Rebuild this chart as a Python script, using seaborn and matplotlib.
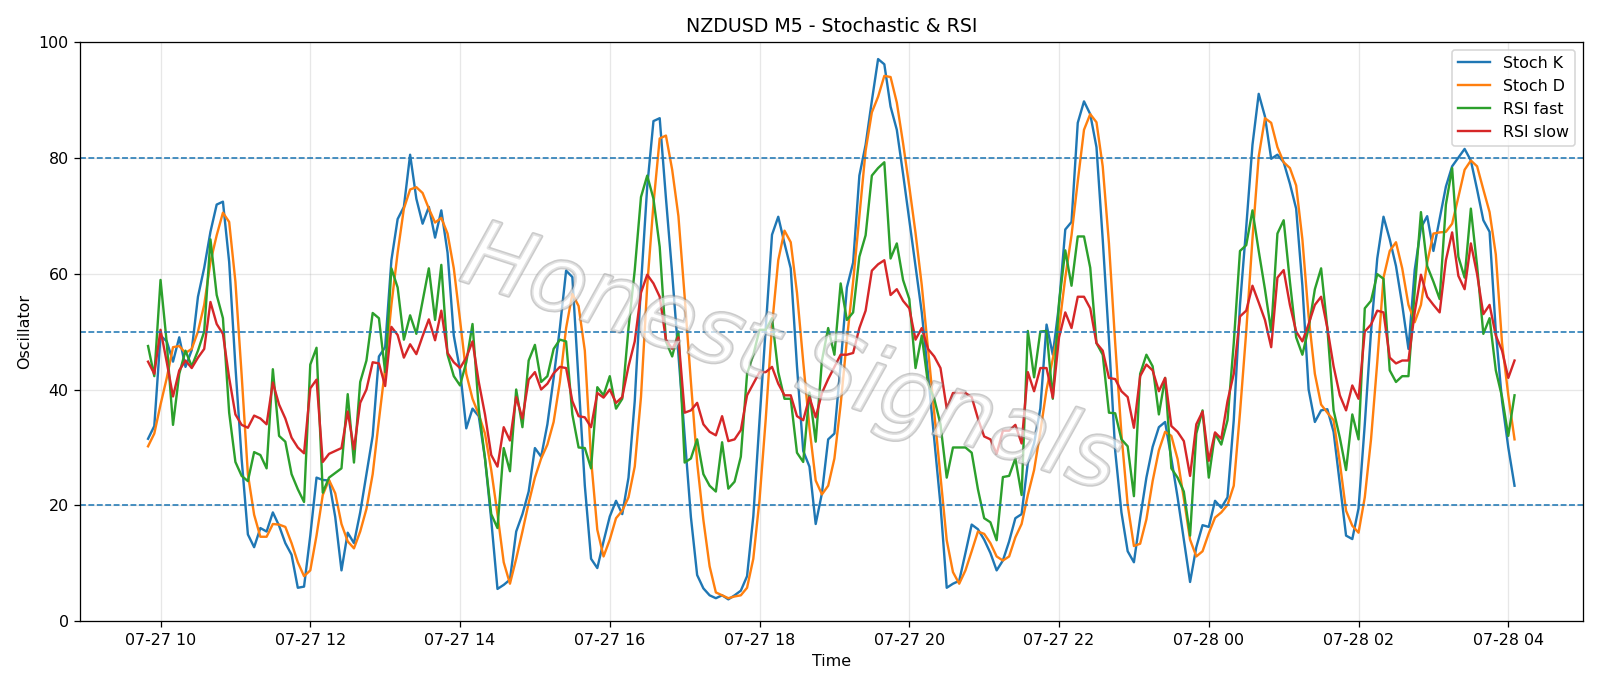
import pandas as pd
import matplotlib
matplotlib.use("Agg")
import matplotlib.pyplot as plt
import matplotlib.dates as mdates
import matplotlib.patheffects as pe
import seaborn as sns

# 5-minute bars, 07-27 09:50 -> 07-28 04:05
start_time = "2023-07-27 09:50"

stoch_k = [
    31.5, 33.7, 49.3, 48.3, 44.8, 49.0, 43.9, 46.8, 56.0, 61.0,
    67.2, 71.9, 72.4, 62.0, 44.0, 28.0, 15.0, 12.8, 16.1, 15.5,
    18.8, 16.5, 13.5, 11.5, 5.8, 6.0, 14.8, 24.8, 24.4, 24.3,
    18.0, 8.8, 15.3, 13.5, 18.8, 25.4, 32.0, 45.7, 47.3, 62.3,
    69.4, 71.5, 80.5, 72.9, 68.6, 71.5, 66.2, 70.9, 63.6, 49.3,
    43.3, 33.3, 36.7, 35.4, 28.1, 17.5, 5.6, 6.3, 7.2, 15.5,
    18.5, 22.4, 29.9, 28.4, 34.0, 42.0, 50.6, 60.5, 59.4, 41.3,
    23.4, 10.8, 9.2, 13.8, 18.1, 20.8, 18.5, 24.8, 38.0, 58.0,
    75.0, 86.3, 86.8, 73.0, 60.0, 46.0, 32.0, 18.0, 8.0, 5.7,
    4.5, 4.0, 4.5, 3.8, 4.5, 5.3, 7.8, 18.1, 34.7, 50.6,
    66.7, 69.8, 65.2, 60.9, 44.0, 29.4, 26.7, 16.8, 22.1, 31.4,
    32.4, 44.3, 57.6, 61.9, 76.9, 82.2, 89.8, 97.0, 96.1, 88.8,
    84.8, 77.2, 69.2, 61.3, 53.3, 42.7, 31.4, 20.1, 5.8, 6.5,
    7.0, 11.8, 16.7, 15.9, 14.1, 11.8, 8.8, 10.5, 13.8, 17.8,
    18.5, 27.4, 30.7, 36.7, 51.2, 46.0, 54.6, 67.6, 68.9, 86.0,
    89.7, 87.5, 81.8, 65.9, 48.6, 29.4, 18.8, 12.1, 10.2, 17.8,
    24.8, 30.1, 33.5, 34.4, 28.1, 21.4, 14.1, 6.8, 12.8, 16.6,
    16.3, 20.8, 19.6, 21.4, 34.7, 54.6, 68.0, 82.2, 91.0, 87.1,
    79.8, 80.5, 79.2, 75.5, 71.2, 57.9, 40.0, 34.4, 36.4, 36.6,
    32.7, 23.8, 14.8, 14.2, 19.5, 34.0, 50.0, 62.6, 69.8, 65.9,
    61.3, 54.6, 47.0, 60.6, 67.9, 69.9, 63.9, 69.5, 75.0, 78.5,
    80.0, 81.5, 79.5, 74.5, 69.2, 67.2, 50.0, 38.0, 30.0, 23.4,
]

stoch_d = [
    30.2, 32.4, 37.4, 42.0, 47.3, 47.5, 46.3, 47.0, 50.0, 54.6,
    62.0, 66.6, 70.5, 68.9, 58.6, 42.5, 25.4, 18.4, 14.6, 14.6,
    16.8, 16.7, 16.3, 13.5, 10.2, 7.8, 8.8, 14.8, 21.8, 24.4,
    22.1, 16.8, 13.8, 12.6, 15.5, 19.4, 25.4, 34.7, 43.7, 54.6,
    63.6, 71.2, 74.5, 74.9, 73.9, 71.2, 68.8, 69.6, 66.9, 60.9,
    52.0, 42.7, 38.4, 35.7, 32.4, 26.1, 18.5, 10.2, 6.5, 10.8,
    15.5, 20.4, 24.8, 28.1, 30.5, 34.4, 41.3, 50.6, 56.5, 54.4,
    46.7, 28.0, 15.8, 11.2, 14.1, 17.8, 19.1, 21.4, 26.7, 38.7,
    57.9, 72.0, 83.3, 83.8, 77.9, 69.9, 56.0, 41.3, 27.4, 17.5,
    9.5, 5.0, 4.5, 4.0, 4.3, 4.5, 5.8, 10.8, 21.0, 35.0,
    51.0, 62.3, 67.4, 65.4, 56.7, 44.8, 33.4, 24.3, 21.9, 23.4,
    28.1, 37.4, 48.6, 58.6, 69.9, 81.2, 87.8, 90.5, 94.1, 93.9,
    89.5, 82.5, 75.0, 67.0, 58.0, 47.0, 36.0, 25.0, 14.0, 8.5,
    6.5, 8.8, 12.1, 15.5, 15.1, 13.5, 11.2, 10.5, 11.2, 14.5,
    16.8, 21.8, 26.1, 32.7, 40.0, 45.3, 50.6, 59.3, 66.6, 75.9,
    84.8, 87.5, 86.1, 78.5, 65.2, 48.0, 32.3, 20.1, 13.0, 13.4,
    17.6, 24.2, 29.5, 32.7, 32.0, 28.0, 21.2, 14.1, 11.2, 12.1,
    15.2, 17.9, 18.8, 20.1, 23.4, 36.0, 50.0, 66.0, 80.2, 86.8,
    86.0, 81.8, 79.2, 78.2, 75.2, 65.9, 52.6, 42.7, 37.4, 36.0,
    34.7, 27.4, 19.1, 16.5, 15.3, 21.4, 31.4, 44.7, 59.3, 63.9,
    65.4, 60.9, 54.6, 51.6, 54.6, 61.9, 66.9, 67.1, 67.2, 68.6,
    73.2, 77.9, 79.5, 78.5, 74.5, 70.6, 63.3, 48.0, 39.0, 31.4,
]

rsi_fast = [
    47.5, 42.3, 58.9, 48.0, 33.9, 42.7, 46.7, 44.0, 46.7, 50.0,
    65.9, 56.3, 52.3, 36.0, 27.5, 25.1, 24.2, 29.2, 28.7, 26.4,
    43.5, 32.0, 31.0, 25.4, 22.8, 20.6, 44.3, 47.2, 22.2, 24.8,
    25.6, 26.4, 39.2, 27.4, 41.3, 45.0, 53.2, 52.3, 43.0, 60.9,
    57.6, 48.6, 52.8, 49.6, 55.3, 60.9, 52.0, 61.5, 46.0, 42.3,
    40.7, 44.7, 51.3, 36.7, 28.1, 18.5, 16.1, 29.9, 25.9, 40.0,
    33.5, 45.0, 47.7, 41.3, 42.3, 47.0, 48.6, 48.3, 35.7, 30.0,
    29.9, 26.4, 40.4, 39.0, 42.3, 36.7, 38.4, 50.6, 60.6, 73.2,
    76.9, 72.9, 64.6, 48.3, 45.7, 50.0, 27.4, 28.1, 31.4, 25.4,
    23.4, 22.4, 30.9, 22.9, 24.1, 28.4, 42.7, 46.0, 50.3, 50.3,
    52.3, 43.0, 38.4, 38.4, 29.1, 27.5, 39.5, 31.0, 45.0, 50.6,
    46.0, 58.3, 52.0, 53.3, 62.9, 66.6, 76.9, 78.2, 79.2, 62.6,
    65.2, 58.9, 55.6, 43.7, 49.3, 41.0, 38.4, 34.0, 24.8, 30.0,
    30.0, 30.0, 29.1, 22.8, 17.8, 17.1, 14.0, 24.9, 25.1, 28.1,
    21.8, 50.1, 42.1, 50.0, 50.1, 38.4, 55.0, 64.0, 57.9, 66.4,
    66.4, 61.0, 48.0, 46.0, 36.0, 35.9, 31.4, 30.2, 21.6, 42.7,
    46.0, 44.0, 35.7, 42.0, 26.4, 24.8, 22.4, 14.8, 32.4, 36.4,
    24.8, 32.4, 30.5, 34.7, 48.0, 63.9, 64.9, 70.9, 63.9, 57.3,
    50.0, 66.9, 69.2, 58.6, 49.0, 46.0, 50.6, 57.3, 60.9, 50.6,
    36.4, 31.7, 26.1, 35.7, 31.4, 54.0, 55.3, 59.9, 59.1, 43.3,
    41.3, 42.3, 42.3, 57.0, 70.6, 61.3, 58.6, 55.6, 71.9, 78.2,
    62.9, 59.3, 71.2, 61.3, 49.6, 52.3, 43.3, 38.7, 32.0, 39.0,
]

rsi_slow = [
    44.8, 42.7, 50.3, 44.7, 38.8, 43.3, 45.0, 43.7, 45.5, 47.0,
    55.1, 51.3, 49.6, 42.0, 35.7, 33.9, 33.4, 35.5, 35.0, 34.0,
    41.2, 37.4, 35.0, 31.7, 30.0, 29.0, 40.2, 41.7, 27.5, 28.9,
    29.4, 29.9, 36.2, 29.7, 37.7, 40.0, 44.7, 44.5, 40.6, 50.8,
    49.4, 45.5, 47.8, 46.1, 49.2, 52.1, 48.5, 53.6, 46.3, 44.7,
    43.7, 45.5, 48.3, 41.3, 35.7, 28.7, 26.7, 33.5, 31.2, 38.7,
    35.0, 41.7, 43.0, 40.0, 41.0, 42.8, 43.9, 43.7, 38.0, 35.4,
    35.2, 33.5, 39.4, 38.6, 40.0, 37.7, 38.7, 44.0, 48.3, 56.7,
    59.8, 58.3, 56.0, 48.6, 47.0, 49.0, 36.0, 36.4, 37.7, 34.0,
    32.7, 32.1, 35.4, 31.1, 31.4, 33.0, 39.0, 41.0, 43.0, 43.0,
    43.9, 41.0, 39.0, 39.0, 35.4, 34.7, 38.7, 35.2, 39.4, 41.8,
    43.9, 46.0, 46.0, 46.3, 50.6, 53.6, 60.5, 61.6, 62.3, 56.3,
    57.3, 55.3, 54.0, 48.6, 50.6, 47.0, 45.7, 43.7, 36.7, 39.4,
    39.4, 39.4, 38.7, 35.0, 31.9, 31.4, 28.9, 32.9, 32.9, 33.9,
    30.7, 43.0, 39.7, 43.7, 43.7, 38.6, 49.0, 53.3, 50.6, 56.0,
    56.0, 54.0, 48.0, 46.7, 42.0, 41.8, 39.7, 38.7, 33.4, 42.3,
    44.3, 43.3, 39.7, 42.0, 33.7, 32.7, 31.1, 25.1, 34.0, 36.2,
    27.7, 32.6, 31.5, 38.0, 42.7, 52.6, 53.6, 57.9, 55.0, 52.0,
    47.3, 59.3, 60.6, 54.6, 50.0, 48.3, 51.3, 54.6, 56.0, 50.6,
    44.0, 39.0, 36.4, 40.7, 38.4, 50.0, 51.2, 53.6, 53.3, 45.5,
    44.5, 45.0, 45.0, 53.3, 59.8, 56.0, 54.6, 53.3, 62.3, 67.1,
    59.6, 57.3, 65.2, 59.9, 53.0, 54.6, 49.3, 46.7, 42.0, 45.0,
]

levels = [20, 50, 80]

times = pd.date_range(start_time, periods=len(stoch_k), freq="5min")

fig, ax = plt.subplots(figsize=(14, 6.0025), dpi=1600 / 14)

series = [
    ("Stoch K", stoch_k, "tab:blue"),
    ("Stoch D", stoch_d, "tab:orange"),
    ("RSI fast", rsi_fast, "tab:green"),
    ("RSI slow", rsi_slow, "tab:red"),
]
for name, vals, col in series:
    sns.lineplot(x=times, y=vals, ax=ax, label=name, color=col, linewidth=1.5)

for lvl in levels:
    ax.axhline(lvl, linestyle="--", color="tab:blue", linewidth=1)

# watermark
ax.text(0.473, 0.45, "Honest Signals", transform=ax.transAxes,
        fontsize=58, style="italic", color="white", alpha=0.45,
        rotation=-18, ha="center", va="center", zorder=5,
        path_effects=[pe.withStroke(linewidth=2, foreground="#8c8c8c")])

ax.set_ylim(0, 100)
ax.xaxis.set_major_locator(mdates.HourLocator(interval=2))
ax.xaxis.set_major_formatter(mdates.DateFormatter("%m-%d %H"))
ax.grid(True, alpha=0.3)
ax.set_title("NZDUSD M5 - Stochastic & RSI")
ax.set_xlabel("Time")
ax.set_ylabel("Oscillator")
ax.legend(loc="upper right")

fig.tight_layout()
fig.savefig("out.png", dpi=1600 / 14)
